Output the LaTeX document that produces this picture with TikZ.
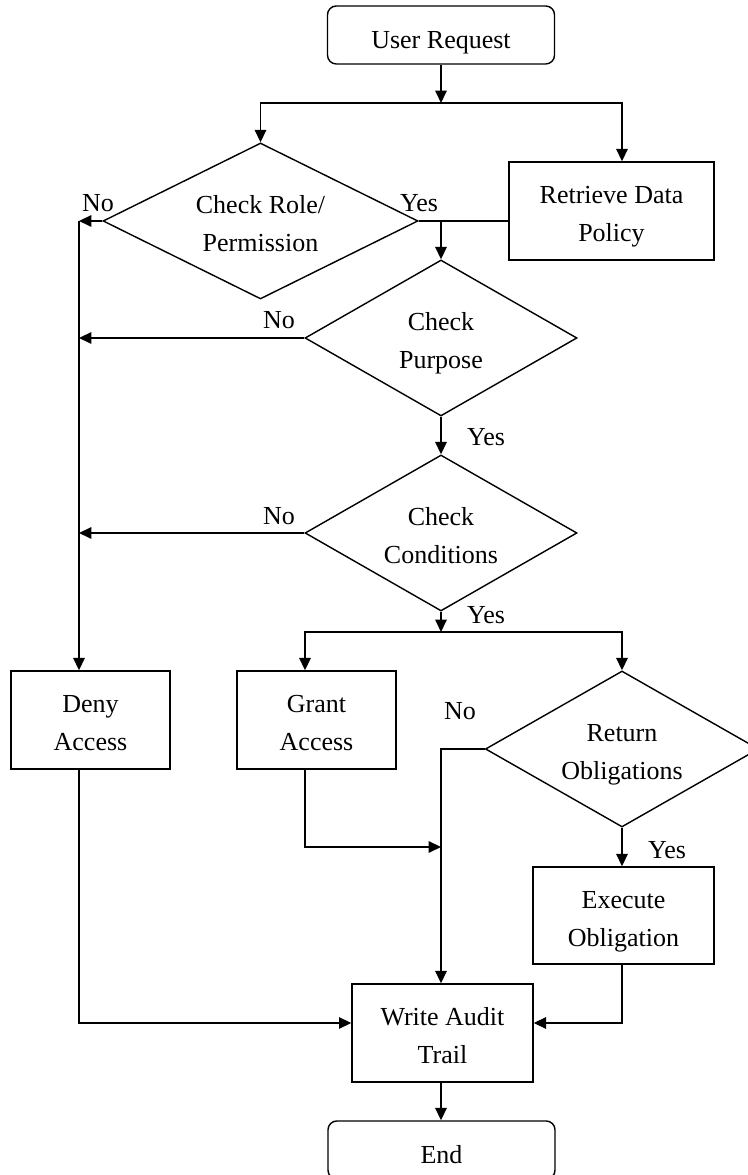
\documentclass[tikz,border=0pt]{standalone}
\usepackage{fontspec}
\setmainfont{Liberation Serif}
\usepackage{tikz}
\usetikzlibrary{shapes.geometric,arrows.meta}
\tikzset{>={Triangle[length=7pt,width=6.5pt]}}
\tikzset{
  terminal/.style={draw,text height=19pt,text depth=4pt,rounded corners=5pt,minimum width=4.54cm,minimum height=1.16cm},
  process/.style={draw,text height=39.2pt,text depth=4pt,minimum height=1.96cm,align=center},
  decision/.style={draw,text height=39.2pt,text depth=4pt,diamond,aspect=2,inner sep=0pt,minimum height=3.12cm,align=center},
  branch/.style={inner sep=0pt}
}

\begin{document}
\begin{tikzpicture}[line width=0.8pt,font=\fontsize{14.8pt}{21.6pt}\selectfont]
          \useasboundingbox (0,0) rectangle (14.94,23.5);

          % Nodes
          \node[terminal] (req) at (8.82,22.8) {User Request};
          \node[decision,minimum width=6.3cm] (role) at (5.21,19.08) {Check Role/\\Permission};
          \node[process,minimum width=4.1cm] (policy) at (12.23,19.28) {Retrieve Data\\Policy};
          \node[decision,minimum width=5.44cm] (purpose) at (8.82,16.74) {Check\\Purpose};
          \node[decision,minimum width=5.44cm] (cond) at (8.82,12.84) {Check\\Conditions};
          \node[process,minimum width=3.18cm] (deny) at (1.81,9.1) {Deny\\Access};
          \node[process,minimum width=3.18cm] (grant) at (6.33,9.1) {Grant\\Access};
          \node[decision,minimum width=5.4cm] (oblig) at (12.44,8.52) {Return\\Obligations};
          \node[process,minimum width=3.62cm,minimum height=1.94cm] (exec) at (12.47,5.19) {Execute\\Obligation};
          \node[process,minimum width=3.62cm] (audit) at (8.85,2.84) {Write Audit\\Trail};
          \node[terminal] (end) at (8.83,0.5) {End};

          % Junctions and rails
          \coordinate (split1) at (8.82,21.44);
          \coordinate (split2) at (8.82,10.86);
          \coordinate (rail) at (1.58,9.1); % Deny rail
          \coordinate (gcol) at (6.1,9.1); % Grant column
          \coordinate (merge) at (8.82,6.56);
          \coordinate (entry) at (8.82,3.04);

          % Connectors
          \draw[->] (req.south -| split1) -- (split1);
          \draw[->] (split1) -| (role.north);
          \draw[->] (split1) -| (oblig.north |- policy.north);
          \draw (role.east) -- (role.east -| policy.west);
          \draw[->] (role.east -| purpose.north) -- (purpose.north);
          \draw[->] (role.west) -- (role.west -| rail);
          \draw[->] (role.west -| rail) -- (deny.north -| rail);
          \draw[->] (purpose.west) -- (purpose.west -| rail);
          \draw[->] (cond.west) -- (cond.west -| rail);
          \draw[->] (purpose.south) -- (cond.north);
          \draw[->] (cond.south) -- (split2);
          \draw[->] (split2) -| (grant.north -| gcol);
          \draw[->] (split2) -| (oblig.north);
          \draw[->] (oblig.west) -| (audit.north -| split2);
          \draw[->] (grant.south -| gcol) |- (merge);
          \draw[->] (oblig.south) -- (exec.north -| oblig.south);
          \draw[->] (deny.south -| rail) |- (audit.west |- entry);
          \draw[->] (exec.south -| oblig.south) |- (audit.east |- entry);
          \draw[->] (audit.south -| split2) -- (end.north -| split2);

          % Branch labels
          \node[branch] (yesrole) at (8.38,19.44) {Yes};
          \node[branch] (norole) at (1.96,19.44) {No};
          \node[branch] (nopurp) at (5.58,17.1) {No};
          \node[branch] (yespurp) at (9.72,14.76) {Yes};
          \node[branch] (nocond) at (5.58,13.18) {No};
          \node[branch] (yescond) at (9.72,11.2) {Yes};
          \node[branch] (nooblig) at (9.2,9.28) {No};
          \node[branch] (yesoblig) at (13.34,6.5) {Yes};
\end{tikzpicture}
\end{document}
